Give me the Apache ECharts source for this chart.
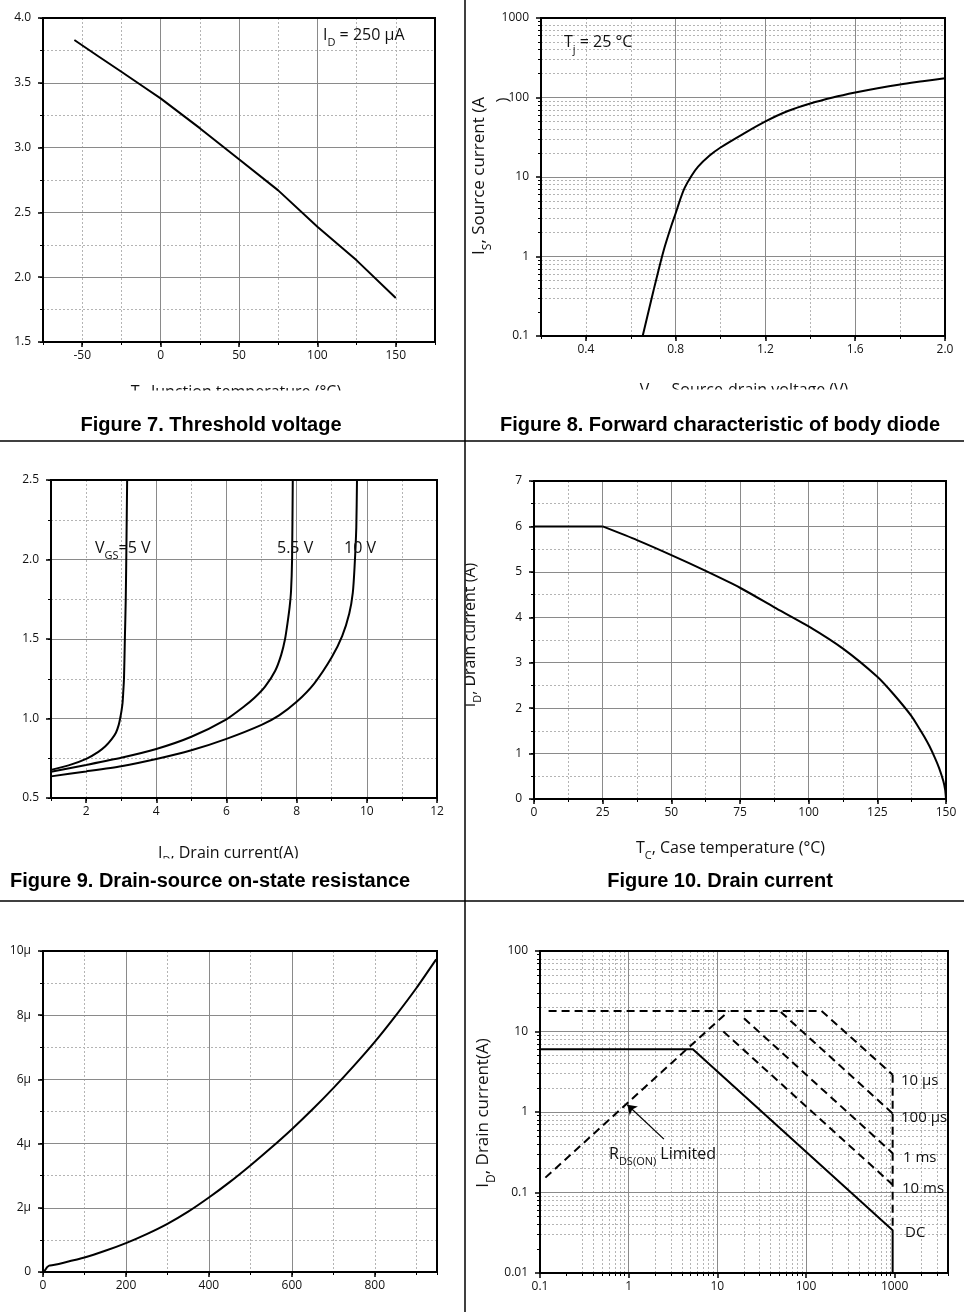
<!DOCTYPE html>
<html><head><meta charset="utf-8">
<script src="https://cdn.jsdelivr.net/npm/echarts@6/dist/echarts.min.js"></script>
<style>html,body{margin:0;padding:0;background:#fff}#c{width:964px;height:1312px}</style>
</head><body><div id="c"></div>
<script>
// ================= DATA =================
// Figure 7 - threshold voltage vs junction temperature
const f7TempTicks = [-50, 0, 50, 100, 150];
const f7VthTicks = [1.5, 2.0, 2.5, 3.0, 3.5, 4.0];
const f7Temp = [-55, -40, -25, -10, 0, 25, 50, 75, 100, 125, 150];
const f7Vth  = [3.83, 3.707, 3.585, 3.462, 3.38, 3.15, 2.91, 2.67, 2.39, 2.13, 1.84];

// Figure 8 - body diode forward characteristic
const f8VTicks = [0.4, 0.8, 1.2, 1.6, 2.0];
const f8ITicks = [0.1, 1, 10, 100, 1000];
const f8Vsd = [0.653, 0.70, 0.745, 0.78, 0.80, 0.82, 0.84, 0.87, 0.90, 0.95, 1.0, 1.1, 1.2, 1.3, 1.4, 1.5, 1.6, 1.7, 1.8, 1.9, 2.0];
const f8Is  = [0.1, 0.36, 1.15, 2.4, 3.5, 5.2, 7.3, 10.3, 13.5, 18.5, 23.5, 34.7, 50, 67.6, 84, 100, 115.6, 131, 146, 160, 175];

// Figure 9 - on-state resistance vs drain current
const f9ITicks = [2, 4, 6, 8, 10, 12];
const f9RTicks = [0.5, 1.0, 1.5, 2.0, 2.5];
const f9Vgs5I  = [1, 1.5, 2.02, 2.35, 2.55, 2.73, 2.85, 2.93, 2.97, 3.01, 3.04, 3.06, 3.08, 3.105, 3.13, 3.15, 3.17];
const f9Vgs5R  = [0.677, 0.705, 0.748, 0.79, 0.825, 0.87, 0.91, 0.96, 1.0, 1.05, 1.1, 1.17, 1.25, 1.5, 1.75, 2.1, 2.5];
const f9Vgs55I = [1, 2, 3, 4, 5, 6, 6.5, 6.8, 7.1, 7.39, 7.56, 7.67, 7.74, 7.80, 7.84, 7.87, 7.89];
const f9Vgs55R = [0.665, 0.708, 0.753, 0.808, 0.885, 0.995, 1.075, 1.13, 1.2, 1.3, 1.4, 1.5, 1.6, 1.7, 1.8, 2.0, 2.5];
const f9Vgs10I = [1, 2, 3, 4, 5, 6, 7, 7.5, 8, 8.5, 9, 9.3, 9.5, 9.6, 9.65, 9.7, 9.72];
const f9Vgs10R = [0.636, 0.667, 0.70, 0.745, 0.80, 0.872, 0.96, 1.02, 1.105, 1.22, 1.385, 1.52, 1.66, 1.79, 1.95, 2.2, 2.5];

// Figure 10 - drain current vs case temperature
const f10TTicks = [0, 25, 50, 75, 100, 125, 150];
const f10ITicks = [0, 1, 2, 3, 4, 5, 6, 7];
const f10FlatT = [0, 25];
const f10FlatI = [6, 6];
const f10Tc = [25, 37.5, 50, 62.5, 75, 87.5, 100, 112.5, 125, 131, 137.5, 140, 142, 144, 146, 147.5, 149, 149.7, 150];
const f10Id = [6, 5.70, 5.37, 5.02, 4.65, 4.22, 3.80, 3.31, 2.69, 2.30, 1.82, 1.58, 1.38, 1.16, 0.90, 0.68, 0.40, 0.20, 0];

// Figure 11 - (values in micro units)
const f11XTicks = [0, 200, 400, 600, 800];
const f11YTicks = [0, 2, 4, 6, 8, 10];
const f11X = [0, 5, 10, 15, 25, 50, 100, 150, 200, 250, 300, 350, 400, 450, 500, 550, 600, 650, 700, 750, 800, 850, 900, 948];
const f11Y = [0, 0.06, 0.15, 0.20, 0.22, 0.29, 0.45, 0.66, 0.90, 1.18, 1.50, 1.88, 2.32, 2.80, 3.32, 3.87, 4.45, 5.07, 5.73, 6.43, 7.17, 7.98, 8.84, 9.74];

// Figure 12 - safe operating area
const f12VTicks = [0.1, 1, 10, 100, 1000];
const f12ITicks = [0.01, 0.1, 1, 10, 100];
const soaDcV    = [0.1, 5.3, 950, 950];
const soaDcI    = [6, 6, 0.034, 0.01];
const soaRdsV   = [0.115, 13.5];
const soaRdsI   = [0.153, 18];
const soa10usV  = [0.125, 150, 950];
const soa10usI  = [18, 18, 2.9];
const soa100usV = [52, 950];
const soa100usI = [17.5, 0.96];
const soa1msV   = [20, 950];
const soa1msI   = [14.6, 0.308];
const soa10msV  = [11.7, 950];
const soa10msI  = [10, 0.125];
const soaEdgeV  = [950, 950];
const soaEdgeI  = [2.9, 0.034];
const rdsArrowFrom = [2.5, 0.46];
const rdsArrowTo   = [0.965, 1.23];

// ================= BUILD =================
const FONT = '"Open Sans", "Noto Sans", "DejaVu Sans", sans-serif';
const TFONT = '"Liberation Sans", Arial, sans-serif';
const grids = [], xAxis = [], yAxis = [], series = [], graphics = [];

function fmtDefault(v) { return String(+(+v).toPrecision(6)); }
function fmt1(v) { return (+v).toFixed(1); }
function logMinor(lo, hi) {
  const out = [];
  for (let d = lo; d < hi; d *= 10) for (let k = 2; k <= 9; k++) out.push(+(d * k).toPrecision(6));
  return out;
}

function makeAxes(dim, gi, o) {
  const pos = dim === 'x' ? 'bottom' : 'left';
  const base = {gridIndex: gi, type: o.type || 'value', min: o.min, max: o.max, position: pos, silent: true};
  if (base.type === 'log') base.logBase = 10;
  const major = Object.assign({}, base, {
    z: 2,
    axisLine: {show: true, onZero: false, lineStyle: {color: '#000', width: 2}},
    axisTick: {show: true, inside: false, length: 5, customValues: o.major, lineStyle: {color: '#000', width: 1.5}},
    axisLabel: {show: true, customValues: o.major, formatter: o.fmt || fmtDefault,
      margin: dim === 'x' ? 8 : 12, fontSize: 12, color: '#111', fontFamily: FONT},
    splitLine: {show: true, showMinLine: false, showMaxLine: false, lineStyle: {color: '#8a8a8a', width: 1}},
    minorTick: {show: false}, minorSplitLine: {show: false}
  });
  const minor = Object.assign({}, base, {
    z: 1,
    axisLine: {show: false, onZero: false},
    axisTick: {show: true, inside: false, length: 3, lineStyle: {color: '#000', width: 1}},
    axisLabel: {show: false},
    splitLine: {show: true, showMinLine: false, showMaxLine: false, lineStyle: {color: '#b4b4b4', width: 1, type: [2, 2]}}
  });
  if (o.minorInterval) minor.interval = o.minorInterval;
  if (o.minorValues) { minor.axisTick.customValues = o.minorValues; minor.axisLabel.customValues = o.minorValues; }
  (dim === 'x' ? xAxis : yAxis).push(major, minor);
}

function panel(rect, xo, yo) {
  const gi = grids.length;
  grids.push({left: rect[0], top: rect[1], width: rect[2], height: rect[3], show: true,
    borderColor: '#000', borderWidth: 2, backgroundColor: 'rgba(0,0,0,0)', z: 4});
  makeAxes('x', gi, xo); makeAxes('y', gi, yo);
  return gi;
}
function curve(gi, xs, ys, extra) {
  const s = Object.assign({type: 'line', xAxisIndex: 2 * gi, yAxisIndex: 2 * gi,
    data: xs.map((x, i) => [x, ys[i]]), symbol: 'none', showSymbol: false, silent: true,
    animation: false, z: 3, lineStyle: {color: '#000', width: 2}}, extra || {});
  series.push(s); return s;
}
const DASH = {color: '#000', width: 2, type: [8, 5]};

function richParts(parts, sz) {
  const L = sz + 8, ss = Math.round(sz * 0.68), lhs = ss + 2;
  const P = L / 2 + 0.3 * sz - lhs / 2;
  return {
    text: parts.map(p => (typeof p === 'string' ? '{m|' + p + '}' : '{s|' + p[0] + '}')).join(''),
    rich: {
      m: {fontSize: sz, fontFamily: FONT, fill: '#111', lineHeight: L, verticalAlign: 'top'},
      s: {fontSize: ss, fontFamily: FONT, fill: '#111', lineHeight: lhs, verticalAlign: 'top', padding: [P, 0, 0, 0]}
    }
  };
}
function label(x, y, parts, sz, align, rotation) {
  const r = richParts(parts, sz);
  const el = {type: 'text', x: x, y: y, z: 100, silent: true,
    style: {text: r.text, rich: r.rich, align: align || 'left', verticalAlign: 'middle', fontSize: sz, fontFamily: FONT, fill: '#111'}};
  if (rotation) el.rotation = rotation;
  graphics.push(el);
}
function title(x, y, text, align) {
  graphics.push({type: 'text', x: x, y: y, z: 100, silent: true,
    style: {text: text, font: 'bold 20px ' + TFONT, fill: '#000', align: align, verticalAlign: 'middle'}});
}
function whiteRect(x, y, w, h) {
  graphics.push({type: 'rect', z: 101, silent: true, shape: {x: x, y: y, width: w, height: h}, style: {fill: '#fff'}});
}
function rule(x1, y1, x2, y2) {
  graphics.push({type: 'line', z: 102, silent: true, shape: {x1, y1, x2, y2}, style: {stroke: '#000', lineWidth: 1.5}});
}

// ---- Figure 7
const g7 = panel([43, 18, 392, 324],
  {min: -75, max: 175, major: f7TempTicks, minorInterval: 25},
  {min: 1.5, max: 4.0, major: f7VthTicks, minorInterval: 0.25, fmt: fmt1});
curve(g7, f7Temp, f7Vth);
label(323, 39, ['I', ['D'], ' = 250 μA'], 16, 'left');
label(236, 396, ['T', ['J'], ', Junction temperature (°C)'], 16, 'center');
whiteRect(90, 390.5, 300, 18);
title(211, 425, 'Figure 7. Threshold voltage', 'center');

// ---- Figure 8
const g8 = panel([541, 18, 404, 318],
  {min: 0.2, max: 2.0, major: f8VTicks, minorInterval: 0.2, fmt: fmt1},
  {type: 'log', min: 0.1, max: 1000, major: f8ITicks, minorValues: logMinor(0.1, 1000)});
curve(g8, f8Vsd, f8Is, {smooth: 0.3});
label(564, 46, ['T', ['j'], ' = 25 °C'], 16, 'left');
label(483.5, 176, ['I', ['S'], ', Source current (A'], 17, 'center', Math.PI / 2);
label(507, 100, [')'], 17, 'center', Math.PI / 2);
label(744, 394, ['V', ['SD'], ', Source-drain voltage (V)'], 16, 'center');
whiteRect(590, 389.5, 310, 18);
title(720, 425, 'Figure 8. Forward characteristic of body diode', 'center');

// ---- Figure 9
const g9 = panel([51, 480, 386, 318],
  {min: 1, max: 12, major: f9ITicks, minorInterval: 1},
  {min: 0.5, max: 2.5, major: f9RTicks, minorInterval: 0.25, fmt: fmt1});
curve(g9, f9Vgs5I, f9Vgs5R, {smooth: 0.25});
curve(g9, f9Vgs55I, f9Vgs55R, {smooth: 0.2});
curve(g9, f9Vgs10I, f9Vgs10R, {smooth: 0.2});
label(95, 552, ['V', ['GS'], '=5 V'], 16, 'left');
label(277, 552, ['5.5 V'], 16, 'left');
label(344, 552, ['10 V'], 16, 'left');
label(158, 857.5, ['I', ['D'], ', Drain current(A)'], 16, 'left');
whiteRect(150, 858.5, 170, 9);
title(10, 881, 'Figure 9. Drain-source on-state resistance', 'left');

// ---- Figure 10
const g10 = panel([534, 481, 412, 318],
  {min: 0, max: 150, major: f10TTicks, minorInterval: 12.5},
  {min: 0, max: 7, major: f10ITicks, minorInterval: 0.5});
curve(g10, f10FlatT, f10FlatI);
curve(g10, f10Tc, f10Id, {smooth: 0.2});
label(474, 635, ['I', ['D'], ', Drain current (A)'], 16, 'center', Math.PI / 2);
whiteRect(445, 540, 20.5, 200);
label(636, 852.5, ['T', ['C'], ', Case temperature (°C)'], 16, 'left');
title(720, 881.5, 'Figure 10. Drain current', 'center');

// ---- Figure 11
const g11 = panel([43, 951, 394, 321],
  {min: 0, max: 950, major: f11XTicks, minorInterval: 100},
  {min: 0, max: 10, major: f11YTicks, minorInterval: 1, fmt: v => (+v === 0 ? '0' : Math.round(v) + 'μ')});
curve(g11, f11X, f11Y, {smooth: 0.2});

// ---- Figure 12
const g12 = panel([540, 951, 408, 322],
  {type: 'log', min: 0.1, max: 4000, major: f12VTicks, minorValues: logMinor(0.1, 4000).filter(v => v <= 4000)},
  {type: 'log', min: 0.01, max: 100, major: f12ITicks, minorValues: logMinor(0.01, 100)});
curve(g12, soaDcV, soaDcI);
curve(g12, soaRdsV, soaRdsI, {lineStyle: DASH, markLine: {
  silent: true, animation: false, symbol: ['none', 'arrow'], symbolSize: 9,
  lineStyle: {color: '#000', width: 1.2, type: 'solid'}, label: {show: false},
  data: [[{coord: rdsArrowFrom}, {coord: rdsArrowTo}]]}});
curve(g12, soa10usV, soa10usI, {lineStyle: DASH});
curve(g12, soa100usV, soa100usI, {lineStyle: DASH});
curve(g12, soa1msV, soa1msI, {lineStyle: DASH});
curve(g12, soa10msV, soa10msI, {lineStyle: DASH});
curve(g12, soaEdgeV, soaEdgeI, {lineStyle: DASH});
label(487, 1113, ['I', ['D'], ', Drain current(A)'], 17, 'center', Math.PI / 2);
label(901, 1085, ['10 μs'], 15, 'left');
label(901, 1122, ['100 μs'], 15, 'left');
label(903, 1162, ['1 ms'], 15, 'left');
label(902, 1193, ['10 ms'], 15, 'left');
label(905, 1237, ['DC'], 15, 'left');
label(609, 1158, ['R', ['DS(ON)'], ' Limited'], 16, 'left');

// ---- panel dividers
rule(0, 441, 964, 441);
rule(0, 901, 964, 901);
rule(465, 0, 465, 1312);

const chart = echarts.init(document.getElementById('c'), null, {renderer: 'canvas'});
chart.setOption({
  animation: false,
  backgroundColor: '#fff',
  grid: grids, xAxis: xAxis, yAxis: yAxis, series: series,
  graphic: {elements: graphics}
});
</script>
</body></html>
